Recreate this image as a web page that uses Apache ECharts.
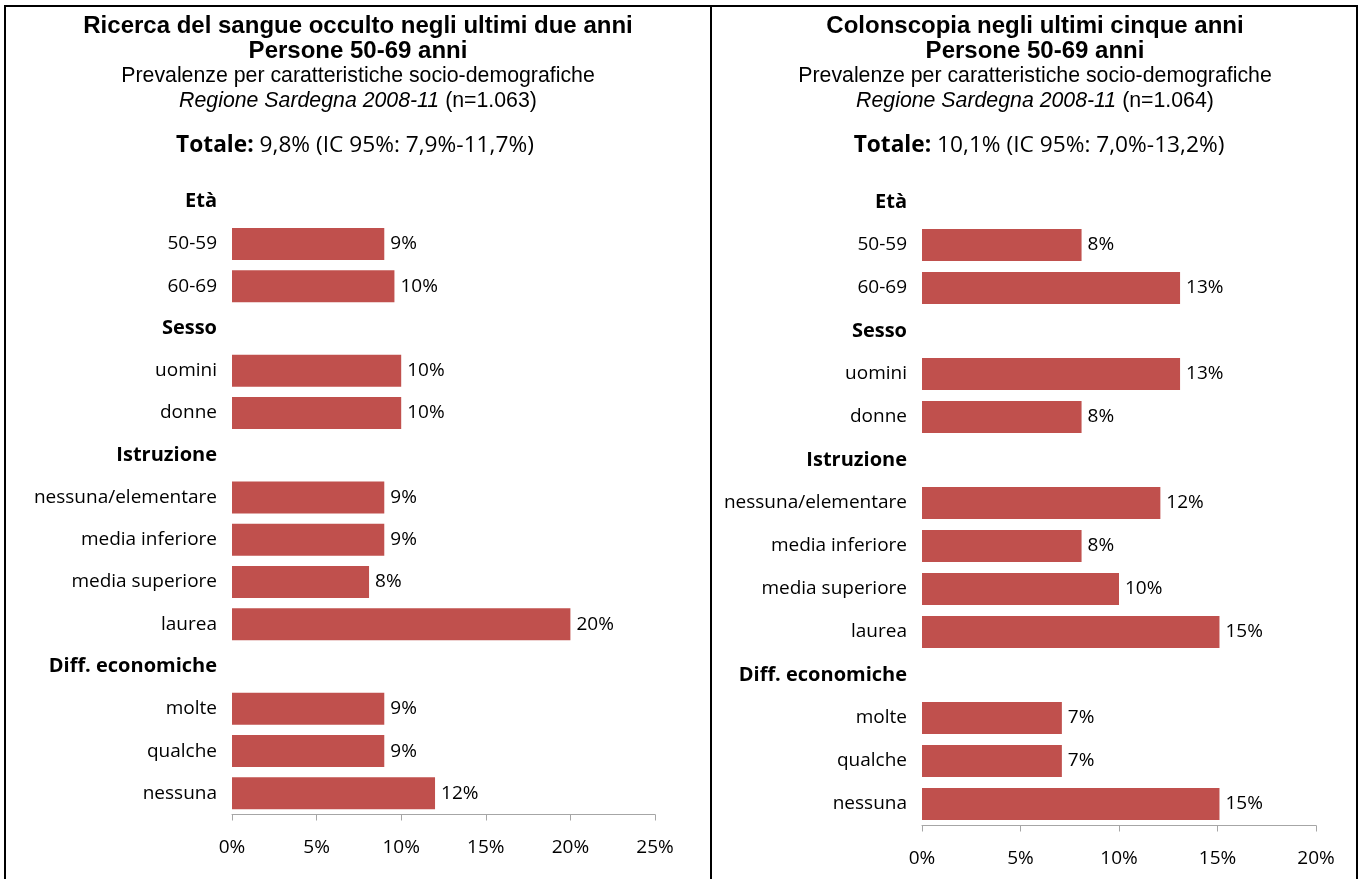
<!DOCTYPE html>
<html>
<head>
<meta charset="utf-8">
<script src="https://cdn.jsdelivr.net/npm/echarts@6/dist/echarts.min.js"></script>
<style>
html,body{margin:0;padding:0;background:#fff;}
#c{width:1361px;height:879px;}
</style>
</head>
<body>
<div id="c"></div>
<script>
// ---- data ----
var categories = ['Età','50-59','60-69','Sesso','uomini','donne','Istruzione','nessuna/elementare','media inferiore','media superiore','laurea','Diff. economiche','molte','qualche','nessuna'];
var groupHeaders = ['Età','Sesso','Istruzione','Diff. economiche'];
var sangueValues = [null, 9.0, 9.6, null, 10.0, 10.0, null, 9.0, 9.0, 8.1, 20.0, null, 9.0, 9.0, 12.0];
var colonValues  = [null, 8.1, 13.1, null, 13.1, 8.1, null, 12.1, 8.1, 10.0, 15.1, null, 7.1, 7.1, 15.1];
var leftTitle = ['Ricerca del sangue occulto negli ultimi due anni', 'Persone 50-69 anni', 'Prevalenze per caratteristiche socio-demografiche', 'Regione Sardegna 2008-11', ' (n=1.063)'];
var rightTitle = ['Colonscopia negli ultimi cinque anni', 'Persone 50-69 anni', 'Prevalenze per caratteristiche socio-demografiche', 'Regione Sardegna 2008-11', ' (n=1.064)'];
var leftTotal = ' 9,8% (IC 95%: 7,9%-11,7%)';
var rightTotal = ' 10,1% (IC 95%: 7,0%-13,2%)';
var leftTicks = {min: 0, max: 25, interval: 5};
var rightTicks = {min: 0, max: 20, interval: 5};

var LF = '"Open Sans", Lato, sans-serif';
var AF = '"Liberation Sans", Arial, sans-serif';
var BAR = '#C0504D';

function titleText(t) {
  return '{a|' + t[0] + '}\n{a|' + t[1] + '}\n{b|' + t[2] + '}\n{c|' + t[3] + '}{b|' + t[4] + '}';
}
var titleRich = {
  a: {fontFamily: AF, fontWeight: 'bold', fontSize: 24, lineHeight: 25, color: '#000'},
  b: {fontFamily: AF, fontWeight: 'normal', fontSize: 21.3, lineHeight: 25, color: '#000'},
  c: {fontFamily: AF, fontWeight: 'normal', fontSize: 21.3, fontStyle: 'italic', lineHeight: 25, color: '#000'}
};
var totRich = {
  tb: {fontFamily: LF, fontWeight: 'bold', fontSize: 22.7, color: '#000'},
  t: {fontFamily: LF, fontWeight: 'normal', fontSize: 22.7, color: '#000'}
};

function yAxisFor(gi) {
  return {
    type: 'category', gridIndex: gi, data: categories, inverse: true,
    axisLine: {show: false}, axisTick: {show: false},
    axisLabel: {
      margin: 15, color: '#000', fontFamily: LF, fontSize: 19,
      formatter: function (v) { return groupHeaders.indexOf(v) >= 0 ? '{h|' + v + '}' : v; },
      rich: {h: {fontFamily: LF, fontWeight: 'bold', fontSize: 20, color: '#000'}}
    }
  };
}
function xAxisFor(gi, tk) {
  return {
    type: 'value', gridIndex: gi, min: tk.min, max: tk.max, interval: tk.interval,
    axisLine: {show: true, lineStyle: {color: '#a6a6a6', width: 1}},
    axisTick: {show: true, length: 6, lineStyle: {color: '#a6a6a6'}},
    splitLine: {show: false},
    axisLabel: {margin: 24, color: '#000', fontFamily: LF, fontSize: 19, formatter: '{value}%'}
  };
}
function seriesFor(i, vals) {
  return {
    type: 'bar', xAxisIndex: i, yAxisIndex: i, data: vals, barWidth: 32,
    itemStyle: {color: BAR},
    label: {show: true, position: 'right', distance: 6, color: '#000', fontFamily: LF, fontSize: 19,
      formatter: function (p) { return p.value == null ? '' : Math.round(p.value) + '%'; }},
    silent: true, animation: false
  };
}

var chart = echarts.init(document.getElementById('c'));
chart.setOption({
  backgroundColor: '#fff',
  animation: false,
  title: [
    {text: titleText(leftTitle), left: 358, top: 14, textAlign: 'center', padding: 0, textStyle: {rich: titleRich}},
    {text: titleText(rightTitle), left: 1035, top: 14, textAlign: 'center', padding: 0, textStyle: {rich: titleRich}},
    {text: '{tb|Totale:}{t|' + leftTotal + '}', left: 355, top: 134, textAlign: 'center', padding: 0, textStyle: {rich: totRich}},
    {text: '{tb|Totale:}{t|' + rightTotal + '}', left: 1039, top: 134, textAlign: 'center', padding: 0, textStyle: {rich: totRich}}
  ],
  graphic: [
    {type: 'rect', shape: {x: 5, y: 6, width: 706, height: 900}, style: {fill: 'none', stroke: '#000', lineWidth: 2}, silent: true},
    {type: 'rect', shape: {x: 711, y: 6, width: 646, height: 900}, style: {fill: 'none', stroke: '#000', lineWidth: 2}, silent: true}
  ],
  grid: [
    {left: 232, width: 423, top: 180.5, height: 634},
    {left: 922, width: 394, top: 180.5, height: 645}
  ],
  xAxis: [xAxisFor(0, leftTicks), xAxisFor(1, rightTicks)],
  yAxis: [yAxisFor(0), yAxisFor(1)],
  series: [seriesFor(0, sangueValues), seriesFor(1, colonValues)]
});
</script>
</body>
</html>
